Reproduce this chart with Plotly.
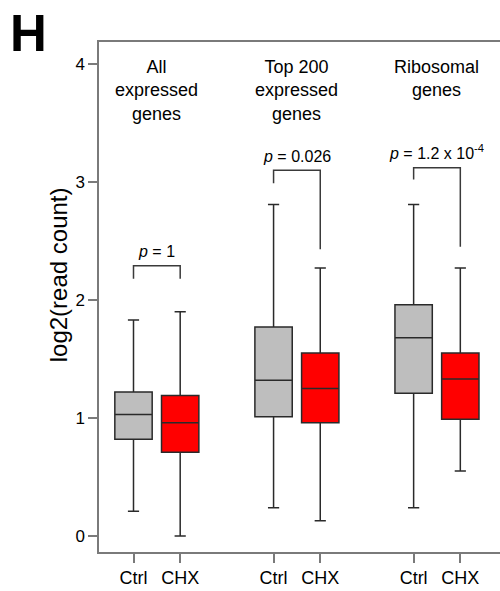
import plotly.graph_objects as go

# ---- data ----
conditions = ["Ctrl", "CHX", "Ctrl", "CHX", "Ctrl", "CHX"]
positions = [1, 2, 4, 5, 7, 8]
group_labels = ["All<br>expressed<br>genes", "Top 200<br>expressed<br>genes", "Ribosomal<br>genes"]
lower_whisker = [0.21, 0.00, 0.24, 0.13, 0.24, 0.55]
q1_vals = [0.82, 0.71, 1.01, 0.96, 1.21, 0.99]
median_vals = [1.03, 0.96, 1.32, 1.25, 1.68, 1.33]
q3_vals = [1.22, 1.19, 1.77, 1.55, 1.96, 1.55]
upper_whisker = [1.83, 1.90, 2.81, 2.27, 2.81, 2.27]
box_colors = ["#BEBEBE", "#FF0000", "#BEBEBE", "#FF0000", "#BEBEBE", "#FF0000"]
p_texts = ["<i>p</i> = 1", "<i>p</i> = 0.026", "<i>p</i> = 1.2 x 10<sup>-4</sup>"]
bracket_top = [2.29, 3.10, 3.12]
bracket_left_end = [2.18, 2.99, 3.02]
bracket_right_end = [2.18, 2.43, 2.45]
y_ticks = [0, 1, 2, 3, 4]
y_title = "log2(read count)"

FONT = "Liberation Sans, Arial, Helvetica, sans-serif"
AXIS_COLOR = "#7a7a7a"

fig = go.Figure()

for i in range(len(positions)):
    fig.add_trace(go.Box(
        x=[positions[i]],
        q1=[q1_vals[i]], median=[median_vals[i]], q3=[q3_vals[i]],
        lowerfence=[lower_whisker[i]], upperfence=[upper_whisker[i]],
        width=0.8, whiskerwidth=0.3,
        fillcolor=box_colors[i],
        line=dict(color="#2a2a2a", width=1.5),
        boxpoints=False, showlegend=False, hoverinfo="skip",
    ))

for g in range(3):
    xl = positions[2 * g]
    xr = positions[2 * g + 1]
    fig.add_trace(go.Scatter(
        x=[xl, xl, xr, xr],
        y=[bracket_left_end[g], bracket_top[g], bracket_top[g], bracket_right_end[g]],
        mode="lines", line=dict(color="#3a3a3a", width=1.5),
        showlegend=False, hoverinfo="skip",
    ))
    fig.add_annotation(
        x=(xl + xr) / 2, y=bracket_top[g] + 0.03, xref="x", yref="y",
        text=p_texts[g], showarrow=False, yanchor="bottom",
        font=dict(family=FONT, size=16, color="black"),
    )
    fig.add_annotation(
        x=(xl + xr) / 2, y=4.08, xref="x", yref="y",
        text=group_labels[g], showarrow=False, yanchor="top",
        font=dict(family=FONT, size=18, color="black"),
    )

fig.add_annotation(
    x=-0.176, y=1.017, xref="paper", yref="paper",
    text="<b>H</b>", showarrow=False, xanchor="center", yanchor="middle",
    font=dict(family=FONT, size=51, color="black"),
)

fig.add_annotation(
    x=-0.102, y=2.21, xref="paper", yref="y",
    text=y_title, showarrow=False, textangle=-90,
    xanchor="center", yanchor="middle",
    font=dict(family=FONT, size=24, color="black"),
)

fig.update_layout(
    width=500, height=591,
    margin=dict(l=99, r=0, t=42, b=39),
    paper_bgcolor="white", plot_bgcolor="white",
    font=dict(family=FONT, color="black"),
    xaxis=dict(
        range=[0.261, 8.85], tickvals=positions, ticktext=conditions,
        showline=True, linecolor=AXIS_COLOR, linewidth=1.5, mirror=True,
        ticks="outside", ticklen=9, tickcolor=AXIS_COLOR, tickwidth=1.5,
        showgrid=False, zeroline=False,
        tickfont=dict(family=FONT, size=18, color="black"),
    ),
    yaxis=dict(
        range=[-0.1356, 4.186], tickvals=y_ticks,
        showline=True, linecolor=AXIS_COLOR, linewidth=1.5,
        ticks="outside", ticklen=9, tickcolor=AXIS_COLOR, tickwidth=1.5,
        showgrid=False, zeroline=False,
        tickfont=dict(family=FONT, size=17, color="black"),
    ),
)

fig.write_html("out.html")
